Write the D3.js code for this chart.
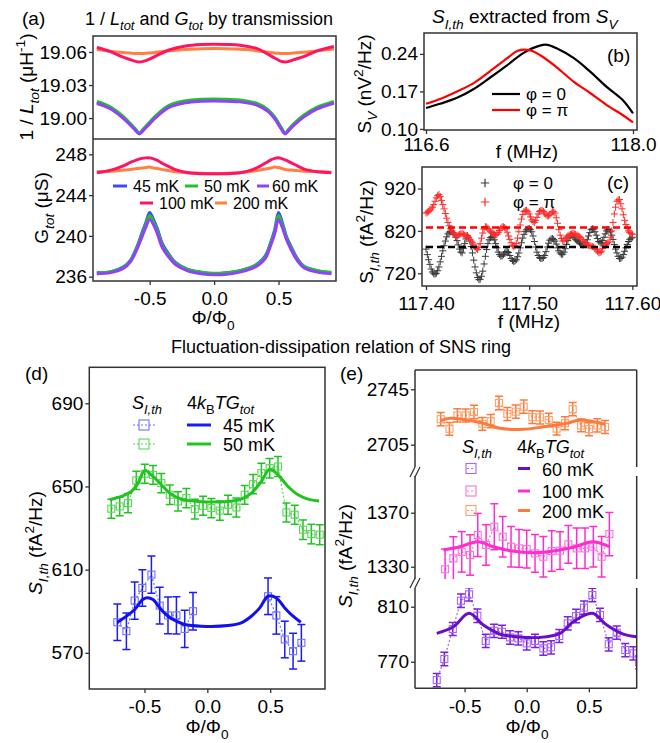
<!DOCTYPE html>
<html><head><meta charset="utf-8">
<script src="https://cdn.jsdelivr.net/npm/d3@7"></script>
<style>
body{margin:0;background:#fff;}
svg text{font-family:"Liberation Sans",Arial,Helvetica,sans-serif;fill:#000;}
</style></head><body>
<svg id="c" width="660" height="743"></svg>
<script>
// ---------------- DATA ----------------
// (a) top: 1/L_tot (uH^-1)
const aTopPhi = [-0.91,-0.81,-0.71,-0.65,-0.61,-0.58,-0.55,-0.51,-0.45,-0.35,-0.22,-0.1,0,0.1,0.2,0.33,0.42,0.47,0.52,0.55,0.58,0.62,0.7,0.8,0.93];
const aTop45 = [19.0140,19.0095,19.0010,18.9942,18.9893,18.9860,18.9893,18.9942,19.0015,19.0104,19.0146,19.0160,19.0163,19.0160,19.0155,19.0125,19.0066,19.0001,18.9908,18.9860,18.9893,18.9942,19.0020,19.0090,19.0142];
const aTop50 = [19.0150,19.0105,19.0020,18.9950,18.9900,18.9865,18.9900,18.9950,19.0025,19.0115,19.0157,19.0170,19.0174,19.0170,19.0165,19.0135,19.0075,19.0010,18.9915,18.9865,18.9900,18.9950,19.0030,19.0100,19.0152];
const aTop60 = [19.0132,19.0087,19.0003,18.9936,18.9888,18.9856,18.9888,18.9936,19.0008,19.0097,19.0139,19.0152,19.0156,19.0152,19.0147,19.0118,19.0059,18.9995,18.9903,18.9856,18.9888,18.9936,19.0013,19.0083,19.0135];
const aTop100 = [19.0640,19.0605,19.0555,19.0530,19.0515,19.0510,19.0515,19.0530,19.0565,19.0618,19.0655,19.0668,19.0670,19.0668,19.0662,19.0632,19.0578,19.0545,19.0515,19.0510,19.0515,19.0530,19.0560,19.0610,19.0650];
const aTop200 = [19.0622,19.0607,19.0595,19.0590,19.0587,19.0586,19.0587,19.0590,19.0597,19.0610,19.0622,19.0630,19.0632,19.0630,19.0625,19.0612,19.0598,19.0591,19.0587,19.0586,19.0587,19.0590,19.0598,19.0610,19.0628];
// (a) bottom: G_tot (uS)
const aBotPhi = [-0.91,-0.8,-0.7,-0.65,-0.6,-0.56,-0.53,-0.5,-0.47,-0.44,-0.4,-0.35,-0.3,-0.2,-0.1,0,0.1,0.2,0.3,0.35,0.4,0.44,0.47,0.5,0.53,0.56,0.6,0.65,0.7,0.8,0.91];
const aBot45 = [236.4,236.5,237.0,237.6,238.9,240.3,241.3,242.3,241.6,240.7,239.2,238.2,237.4,236.7,236.45,236.3,236.4,236.6,237.0,237.4,238.1,239.4,240.6,242.3,241.3,240.0,238.9,237.7,237.0,236.6,236.4];
const aBot50 = [236.4,236.5,236.95,237.55,238.8,240.1,241.1,242.0,241.4,240.5,239.0,238.1,237.35,236.7,236.45,236.35,236.4,236.6,237.0,237.35,238.0,239.3,240.4,242.0,241.1,239.9,238.8,237.6,237.0,236.6,236.45];
const aBot60 = [236.3,236.4,236.85,237.45,238.65,239.9,240.85,241.6,241.1,240.2,238.8,237.9,237.2,236.55,236.3,236.2,236.25,236.45,236.85,237.2,237.85,239.1,240.2,241.6,240.8,239.7,238.6,237.5,236.85,236.45,236.3];
const aBot100 = [246.2,246.45,246.9,247.2,247.45,247.6,247.65,247.65,247.55,247.4,247.1,246.8,246.5,246.2,246.1,246.1,246.1,246.2,246.5,246.8,247.15,247.45,247.6,247.65,247.55,247.4,247.15,246.85,246.55,246.3,246.2];
const aBot200 = [246.3,246.35,246.45,246.5,246.6,246.65,246.7,246.75,246.65,246.6,246.5,246.4,246.3,246.2,246.15,246.1,246.15,246.2,246.35,246.45,246.55,246.65,246.75,246.7,246.6,246.5,246.45,246.4,246.35,246.3,246.25];
const aLegend = ["45 mK","50 mK","60 mK","100 mK","200 mK"];

// (b) S_V (nV^2/Hz) vs f (MHz)
const bFreq0 = [116.6,116.695,116.81,116.92,117.03,117.15,117.26,117.37,117.42,117.48,117.60,117.71,117.82,117.93,118.0];
const bSv0   = [0.139,0.147,0.158,0.174,0.195,0.219,0.242,0.2555,0.257,0.251,0.232,0.207,0.179,0.154,0.129];
const bFreqPi = [116.6,116.695,116.81,116.92,117.03,117.15,117.22,117.30,117.37,117.48,117.60,117.71,117.82,117.93,118.0];
const bSvPi   = [0.147,0.156,0.170,0.185,0.207,0.232,0.246,0.247,0.238,0.216,0.188,0.167,0.145,0.126,0.112];

// (c) S_I,th (fA^2/Hz) vs f (MHz)
const cFreq = [
  117.4,117.40125,117.4025,117.40375,117.405,117.40625,117.4075,117.40875,
  117.41,117.41125,117.4125,117.41375,117.415,117.41625,117.4175,117.41875,
  117.42,117.42125,117.4225,117.42375,117.425,117.42625,117.4275,117.42875,
  117.43,117.43125,117.4325,117.43375,117.435,117.43625,117.4375,117.43875,
  117.44,117.44125,117.4425,117.44375,117.445,117.44625,117.4475,117.44875,
  117.45,117.45125,117.4525,117.45375,117.455,117.45625,117.4575,117.45875,
  117.46,117.46125,117.4625,117.46375,117.465,117.46625,117.4675,117.46875,
  117.47,117.47125,117.4725,117.47375,117.475,117.47625,117.4775,117.47875,
  117.48,117.48125,117.4825,117.48375,117.485,117.48625,117.4875,117.48875,
  117.49,117.49125,117.4925,117.49375,117.495,117.49625,117.4975,117.49875,
  117.5,117.50125,117.5025,117.50375,117.505,117.50625,117.5075,117.50875,
  117.51,117.51125,117.5125,117.51375,117.515,117.51625,117.5175,117.51875,
  117.52,117.52125,117.5225,117.52375,117.525,117.52625,117.5275,117.52875,
  117.53,117.53125,117.5325,117.53375,117.535,117.53625,117.5375,117.53875,
  117.54,117.54125,117.5425,117.54375,117.545,117.54625,117.5475,117.54875,
  117.55,117.55125,117.5525,117.55375,117.555,117.55625,117.5575,117.55875,
  117.56,117.56125,117.5625,117.56375,117.565,117.56625,117.5675,117.56875,
  117.57,117.57125,117.5725,117.57375,117.575,117.57625,117.5775,117.57875,
  117.58,117.58125,117.5825,117.58375,117.585,117.58625,117.5875,117.58875,
  117.59,117.59125,117.5925,117.59375,117.595,117.59625,117.5975,117.59875,
  117.6];
const cS0 = [
  777,764,752,741,730,723,719,718,720,726, 735,747,760,773,785,796,806,813,817,818,
  818,816,812,805,797,787,777,770,768,779, 790,801,809,805,796,783,768,751,735,721,
  710,705,706,713,725,742,760,776,790,799, 804,806,805,799,790,780,770,764,760,761,
  764,768,771,771,769,762,755,750,748,749, 752,759,768,780,792,803,812,819,823,825,
  826,823,818,808,795,782,770,762,757,755, 755,757,762,771,782,791,798,801,802,800,
  796,789,780,773,768,765,765,770,778,788, 797,804,808,810,809,805,800,797,795,792,
  790,788,787,788,792,799,808,816,823,825, 824,818,810,802,795,792,792,797,805,813,
  820,823,823,818,810,800,788,777,768,760, 755,755,758,764,772,780,788,795,800,803,
  805];
const cSPi = [
  862,864,866,869,872,876,882,890,898,903, 906,901,892,882,872,861,850,840,832,825,
  820,815,812,809,808,810,812,813,814,812, 810,809,808,804,800,796,792,787,782,778,
  776,781,790,803,815,824,830,829,826,822, 818,816,814,812,810,812,816,821,826,829,
  830,828,825,817,808,800,792,786,783,785, 790,803,818,834,848,859,866,868,869,865,
  860,853,846,842,840,845,852,860,866,868, 869,866,862,858,855,856,858,862,866,865,
  862,851,838,823,810,802,796,798,802,805, 808,810,812,813,814,813,812,810,808,806,
  804,800,796,792,788,787,786,785,784,783, 782,779,776,772,768,769,772,779,785,788,
  790,792,794,805,820,840,860,876,890,893, 894,884,872,858,845,835,826,820,816,814,
  812];
const cMean0 = 782, cMeanPi = 828;

// (d) S_I,th and 4kBTG_tot, 45 mK (blue) and 50 mK (green)
const dPhi50 = [-0.764,-0.697,-0.631,-0.565,-0.498,-0.432,-0.366,-0.299,-0.233,-0.167,-0.100,-0.034,0.032,0.099,0.165,0.231,0.297,0.364,0.430,0.496,0.562,0.629,0.695,0.761,0.827,0.894];
const dVal50 = [639.3,640.4,642.0,652.9,656.1,655.6,651.6,646.0,642.8,644.4,639.1,640.7,639.6,638.4,641.2,639.9,646.0,651.1,656.4,658.8,659.6,637.5,636.4,629.2,627.1,626.8];
const dErr50 = [4.6,4.5,4.6,4.4,4.6,4.5,4.6,4.7,4.6,4.6,4.7,4.6,4.6,4.6,4.6,4.6,4.5,4.6,4.7,4.7,4.8,4.6,4.6,4.7,4.7,4.8];
const dPhi45 = [-0.716,-0.644,-0.578,-0.517,-0.445,-0.379,-0.313,-0.246,-0.180,-0.114,0.483,0.549,0.616,0.682,0.748];
const dVal45 = [584.7,580.4,595.1,601.2,607.6,592.7,588.0,588.0,581.5,590.0,597.2,588.0,576.4,570.8,574.8];
const dErr45 = [8.8,8.8,9.0,8.8,9.0,8.8,8.8,9.0,9.0,9.0,8.8,9.0,8.8,8.6,8.8];
const dRun45 = [0,0,0,0,0,0,0,0,0,0,1,1,1,1,1];
const dFitPhi50 = [-0.777,-0.684,-0.605,-0.551,-0.498,-0.432,-0.366,-0.299,-0.207,-0.074,0.165,0.27,0.35,0.43,0.496,0.562,0.642,0.722,0.801,0.889];
const dFitVal50 = [643.6,645.2,647.6,651.6,657.6,654.8,650.8,646.8,643.9,642.8,642.8,643.9,646.8,652.4,658.3,655.6,650.0,646.0,643.9,643.0];
const dFitPhi45 = [-0.716,-0.644,-0.578,-0.517,-0.48,-0.432,-0.379,-0.313,-0.246,-0.18,-0.048,0.165,0.27,0.35,0.417,0.483,0.549,0.616,0.682,0.743];
const dFitVal45 = [584.7,587.6,590.8,595.5,596.5,595.6,591.6,587.6,585.2,583.6,582.8,583.1,584.4,587.6,591.6,597.2,596.4,591.6,587.6,584.7];

// (e) 60 mK (purple), 100 mK (magenta), 200 mK (orange)
const ePhi200 = [-0.692,-0.622,-0.558,-0.491,-0.424,-0.357,-0.290,-0.223,-0.156,-0.088,-0.024,0.045,0.107,0.177,0.241,0.308,0.370,0.437,0.501,0.568,0.630];
const eVal200 = [2723.4,2716.5,2726.1,2726.1,2728.6,2720.1,2722.0,2735.1,2727.2,2728.8,2732.4,2724.9,2724.7,2722.8,2716.6,2720.5,2730.6,2718.9,2716.2,2718.9,2717.8];
const eErr200 = [4.8,4.6,4.8,4.7,4.9,4.6,4.8,4.9,4.7,4.8,4.8,4.6,4.7,4.8,4.6,4.7,4.8,4.6,4.7,4.8,4.7];
const eFitPhi200 = [-0.697,-0.617,-0.483,-0.349,-0.215,-0.027,0.134,0.322,0.429,0.63];
const eFitVal200 = [2722.3,2724.0,2722.8,2720.5,2716.8,2716.1,2718.0,2720.5,2722.8,2719.7];
const ePhi100 = [-0.657,-0.590,-0.523,-0.456,-0.394,-0.327,-0.261,-0.193,-0.126,-0.062,0.000,0.067,0.134,0.201,0.268,0.335,0.402,0.469,0.536,0.603,0.665];
const eVal100 = [1328.1,1336.2,1341.0,1338.7,1353.5,1346.1,1359.6,1352.2,1344.8,1343.6,1343.1,1339.9,1337.4,1341.6,1341.9,1346.6,1343.6,1343.6,1344.8,1337.4,1354.2];
const eErr100 = [15,16,15,15,16,15,17,15,15,14,14,14,15,15,14,14,15,15,15,15,16];
const eFitPhi100 = [-0.671,-0.537,-0.394,-0.269,-0.134,0.053,0.214,0.375,0.531,0.665];
const eFitVal100 = [1342.4,1344.8,1348.5,1344.8,1341.9,1340.4,1341.6,1344.4,1348.5,1344.8];
const ePhi60 = [-0.724,-0.663,-0.595,-0.529,-0.464,-0.397,-0.330,-0.263,-0.199,-0.134,-0.068,0.000,0.067,0.134,0.196,0.262,0.330,0.397,0.461,0.528,0.590,0.660,0.724,0.793,0.858,0.905];
const eVal60 = [756.7,772.0,793.8,814.4,819.0,803.5,785.1,792.5,791.8,787.7,787.0,783.4,785.1,779.7,780.5,788.7,797.9,803.2,809.3,818.5,804.0,782.7,791.1,778.5,776.1,769.5];
const eErr60 = [4.8,4.9,4.8,4.9,4.8,4.9,4.8,4.8,4.8,4.9,4.8,4.8,4.8,4.9,4.8,4.8,4.8,4.9,4.8,4.9,4.8,4.8,4.8,4.8,4.8,4.8];
const eFitPhi60 = [-0.724,-0.59,-0.464,-0.349,-0.215,-0.08,0.107,0.268,0.375,0.528,0.644,0.777,0.885];
const eFitVal60 = [790.6,795.5,805.2,796.7,790.1,788.2,787.7,790.6,799.1,805.2,796.7,790.1,788.2];

const phiTicks = [-0.5, 0.0, 0.5];

// ---------------- DRAWING ----------------
const svg = d3.select('#c');
const defs = svg.append('defs');
const FS = 19;
const FRAME = '#333';
const cat = d3.curveCatmullRom.alpha(0.5);

function clip(id, x0, y0, x1, y1){
  defs.append('clipPath').attr('id', id).append('rect')
    .attr('x', x0).attr('y', y0).attr('width', x1 - x0).attr('height', y1 - y0);
  return `url(#${id})`;
}
function rich(parent, x, y, parts, size, anchor, rot){
  const t = parent.append('text').attr('font-size', size).attr('text-anchor', anchor || 'start');
  if (rot) t.attr('transform', `translate(${x},${y}) rotate(${rot})`);
  else t.attr('x', x).attr('y', y);
  let shift = 0;
  parts.forEach(p => {
    const txt = typeof p === 'string' ? p : p[0];
    const f = typeof p === 'string' ? '' : (p[1] || '');
    let target = 0, fs = size;
    if (f.includes('sub')) { target = size * 0.3; fs = size * 0.72; }
    if (f.includes('sup')) { target = -size * 0.42; fs = size * 0.72; }
    const ts = t.append('tspan').text(txt).attr('dy', target - shift).attr('font-size', fs);
    if (f.includes('it')) ts.attr('font-style', 'italic');
    shift = target;
  });
  return t;
}
function styleAxis(a){
  a.attr('font-family', null).attr('font-size', null);
  a.select('.domain').remove();
  a.selectAll('line').attr('stroke', FRAME).attr('stroke-width', 1.3);
  a.selectAll('text').attr('font-size', FS).attr('fill', '#000');
}
function yAxis(x, scale, ticks, fmt){
  const a = svg.append('g').attr('transform', `translate(${x},0)`)
    .call(d3.axisLeft(scale).tickValues(ticks).tickSize(4).tickPadding(2).tickFormat(fmt));
  styleAxis(a);
}
function xAxis(y, scale, ticks, fmt, pad){
  const a = svg.append('g').attr('transform', `translate(0,${y})`)
    .call(d3.axisBottom(scale).tickValues(ticks).tickSize(4).tickPadding(pad).tickFormat(fmt));
  styleAxis(a);
}
function frame(x0, y0, x1, y1){
  svg.append('rect').attr('x', x0).attr('y', y0).attr('width', x1 - x0).attr('height', y1 - y0)
    .attr('fill', 'none').attr('stroke', FRAME).attr('stroke-width', 1.5);
}
function seg(x1, y1, x2, y2, color, w, dash){
  const l = svg.append('line').attr('x1', x1).attr('y1', y1).attr('x2', x2).attr('y2', y2)
    .attr('stroke', color).attr('stroke-width', w);
  if (dash) l.attr('stroke-dasharray', dash);
  return l;
}
const fmt1 = d => d.toFixed(1);
const fmt2 = d => d.toFixed(2);
const fmt0 = d => d.toFixed(0);

// ===== Panel (a) =====
const colA = {45:'#3b4bff', 50:'#1fc41f', 60:'#9040ff', 100:'#ff1464', 200:'#ff8040'};
const ax = d3.scaleLinear().domain([-0.94, 0.946]).range([93, 336]);
const ayT = d3.scaleLinear().domain([18.981, 19.0745]).range([139, 36]);
const ayB = d3.scaleLinear().domain([235.58, 249.5]).range([281, 139]);
const clipAT = clip('caT', 93, 36, 336, 139);
const clipAB = clip('caB', 93, 139, 336, 281);
function aLine(phi, vals, ys, color, cp){
  svg.append('path').datum(phi.map((p, i) => [p, vals[i]]))
    .attr('d', d3.line().x(d => ax(d[0])).y(d => ys(d[1])).curve(cat))
    .attr('fill', 'none').attr('stroke', color).attr('stroke-width', 3).attr('clip-path', cp);
}
aLine(aTopPhi, aTop200, ayT, colA[200], clipAT);
aLine(aTopPhi, aTop100, ayT, colA[100], clipAT);
aLine(aTopPhi, aTop45, ayT, colA[45], clipAT);
aLine(aTopPhi, aTop50, ayT, colA[50], clipAT);
aLine(aTopPhi, aTop60, ayT, colA[60], clipAT);
aLine(aBotPhi, aBot200, ayB, colA[200], clipAB);
aLine(aBotPhi, aBot100, ayB, colA[100], clipAB);
aLine(aBotPhi, aBot45, ayB, colA[45], clipAB);
aLine(aBotPhi, aBot50, ayB, colA[50], clipAB);
aLine(aBotPhi, aBot60, ayB, colA[60], clipAB);
frame(93, 36, 336, 281);
seg(93, 139, 336, 139, FRAME, 1.5);
yAxis(93, ayT, [19.00, 19.03, 19.06], fmt2);
yAxis(93, ayB, [236, 240, 244, 248], fmt0);
xAxis(281, ax, phiTicks, fmt1, 7);
// legend (a)
[[113,127,133,186,0,45],[185,198,204,186,1,50],[257,269,272,186,2,60],[140,153,159,203,3,100],[215,227,233,203,4,200]]
  .forEach(([x1,x2,tx,y,i,k]) => {
    seg(x1, y, x2, y, colA[k], 3);
    svg.append('text').attr('x', tx).attr('y', y + 6).attr('font-size', 16).text(aLegend[i]);
  });
rich(svg, 22, 25, ['(a)'], FS);
rich(svg, 85, 25, ['1 / ', ['L','it'], ['tot','it sub'], ' and ', ['G','it'], ['tot','it sub'], ' by transmission'], 18);
rich(svg, 33, 87, ['1 / ', ['L','it'], ['tot','it sub'], ' (μH', ['-1','sup'], ')'], FS, 'middle', -90);
rich(svg, 48, 208, ['G', ['tot','it sub'], ' (μS)'], FS, 'middle', -90);
rich(svg, 213, 324, ['Φ/Φ', ['0','sub']], FS, 'middle');

// ===== Panel (b) =====
const bx = d3.scaleLinear().domain([116.5865, 118.027]).range([424, 637]);
const by = d3.scaleLinear().domain([0.098, 0.279]).range([130, 33]);
const clipB = clip('cb', 424, 33, 637, 130);
function bLine(fr, vals, color){
  svg.append('path').datum(fr.map((f, i) => [f, vals[i]]))
    .attr('d', d3.line().x(d => bx(d[0])).y(d => by(d[1])).curve(cat))
    .attr('fill', 'none').attr('stroke', color).attr('stroke-width', 2.2).attr('clip-path', clipB);
}
bLine(bFreq0, bSv0, '#000');
bLine(bFreqPi, bSvPi, '#ff0000');
frame(424, 33, 637, 130);
yAxis(424, by, [0.10, 0.17, 0.24], fmt2);
xAxis(130, bx, [116.6, 118.0], fmt1, 4);
seg(492, 94, 520, 94, '#000', 2.2);
seg(492, 110, 520, 110, '#ff0000', 2.2);
rich(svg, 526, 100, ['φ = 0'], 17);
rich(svg, 526, 116, ['φ = π'], 17);
rich(svg, 607, 62, ['(b)'], FS);
rich(svg, 432, 23, [['S','it'], ['I,th','it sub'], ' extracted from ', ['S','it'], ['V','it sub']], FS);
rich(svg, 371, 84, ['S', ['V','it sub'], '  (nV', ['2','sup'], '/Hz)'], FS, 'middle', -90);
rich(svg, 527, 158, ['f (MHz)'], FS, 'middle');

// ===== Panel (c) =====
const cx = d3.scaleLinear().domain([117.3961, 117.6045]).range([422, 637]);
const cy = d3.scaleLinear().domain([690, 970.8]).range([286, 167]);
const clipC = clip('cc', 422, 167, 637, 286);
const plus = 'M-3.5,0H3.5M0,-3.5V3.5';
function cMarks(vals, color){
  svg.append('g').attr('clip-path', clipC).selectAll('path').data(cFreq.map((f, i) => [f, vals[i]]))
    .join('path').attr('d', plus).attr('transform', d => `translate(${cx(d[0])},${cy(d[1])})`)
    .attr('stroke', color).attr('stroke-width', 1).attr('fill', 'none');
}
cMarks(cS0, '#3a3a3a');
cMarks(cSPi, '#ff2a2a');
seg(426, cy(cMeanPi), 633, cy(cMeanPi), '#ff0000', 2.5, '7,4');
seg(426, cy(cMean0), 633, cy(cMean0), '#000', 2.5, '7,4');
frame(422, 167, 637, 286);
yAxis(422, cy, [720, 820, 920], fmt0);
xAxis(286, cx, [117.40, 117.50, 117.60], fmt2, 7);
svg.append('path').attr('d', plus).attr('transform', 'translate(485,183) scale(1.2)').attr('stroke', '#3a3a3a').attr('fill', 'none');
svg.append('path').attr('d', plus).attr('transform', 'translate(485,202) scale(1.2)').attr('stroke', '#ff2a2a').attr('fill', 'none');
rich(svg, 513, 189, ['φ = 0'], 17);
rich(svg, 513, 208, ['φ = π'], 17);
rich(svg, 607, 189, ['(c)'], FS);
rich(svg, 373, 232, ['S', ['I,th','it sub'], ' (fA', ['2','sup'], '/Hz)'], FS, 'middle', -90);
rich(svg, 529, 328, ['f (MHz)'], FS, 'middle');

// ===== Title for (d)/(e) =====
rich(svg, 341, 353, ['Fluctuation-dissipation relation of SNS ring'], 18, 'middle');

// generic error-bar series
function errSeries(xs, ys, phi, vals, errs, runs, cLine, cSq, cp){
  const g = svg.append('g').attr('clip-path', cp);
  const pts = phi.map((p, i) => ({x: xs(p), y: ys(vals[i]), lo: ys(vals[i] - errs[i]), hi: ys(vals[i] + errs[i]), r: runs ? runs[i] : 0}));
  d3.groups(pts, d => d.r).forEach(([, arr]) => {
    g.append('path').datum(arr).attr('d', d3.line().x(d => d.x).y(d => d.y))
      .attr('fill', 'none').attr('stroke', cSq).attr('stroke-width', 1.2).attr('stroke-dasharray', '2,2');
  });
  pts.forEach(d => {
    g.append('line').attr('x1', d.x).attr('x2', d.x).attr('y1', d.lo).attr('y2', d.hi).attr('stroke', cLine).attr('stroke-width', 1.5);
    g.append('line').attr('x1', d.x - 4).attr('x2', d.x + 4).attr('y1', d.lo).attr('y2', d.lo).attr('stroke', cLine).attr('stroke-width', 1.5);
    g.append('line').attr('x1', d.x - 4).attr('x2', d.x + 4).attr('y1', d.hi).attr('y2', d.hi).attr('stroke', cLine).attr('stroke-width', 1.5);
    g.append('rect').attr('x', d.x - 3.5).attr('y', d.y - 3.5).attr('width', 7).attr('height', 7)
      .attr('fill', 'none').attr('stroke', cSq).attr('stroke-width', 1.1);
  });
}
function fitLine(xs, ys, phi, vals, color, cp){
  svg.append('path').datum(phi.map((p, i) => [p, vals[i]]))
    .attr('d', d3.line().x(d => xs(d[0])).y(d => ys(d[1])).curve(cat))
    .attr('fill', 'none').attr('stroke', color).attr('stroke-width', 3).attr('clip-path', cp);
}

// ===== Panel (d) =====
const dx = d3.scaleLinear().domain([-0.939, 0.936]).range([89.3, 325]);
const dy = d3.scaleLinear().domain([552.6, 707.3]).range([689, 367.3]);
const clipD = clip('cd', 89.3, 367.3, 325, 689);
const dCol = {g:'#1fc41f', gs:'#5ad65a', b:'#1a1aff', bs:'#6f6fff'};
errSeries(dx, dy, dPhi50, dVal50, dErr50, null, dCol.g, dCol.gs, clipD);
fitLine(dx, dy, dFitPhi50, dFitVal50, dCol.g, clipD);
errSeries(dx, dy, dPhi45, dVal45, dErr45, dRun45, dCol.b, dCol.bs, clipD);
fitLine(dx, dy, dFitPhi45, dFitVal45, '#1010f0', clipD);
frame(89.3, 367.3, 325, 689);
yAxis(89.3, dy, [570, 610, 650, 690], fmt0);
xAxis(689, dx, phiTicks, fmt1, 7);
rich(svg, 25, 380, ['(d)'], FS);
rich(svg, 42, 543, [['S','it'], ['I,th','it sub'], ' (fA', ['2','sup'], '/Hz)'], FS, 'middle', -90);
rich(svg, 207, 733, ['Φ/Φ', ['0','sub']], FS, 'middle');
// legend (d)
rich(svg, 132, 409, [['S','it'], ['I,th','it sub']], 18);
rich(svg, 187, 409, ['4', ['k','it'], ['B','sub'], ['TG','it'], ['tot','it sub']], 18);
[[425, dCol.b, dCol.bs, '45 mK'], [444, dCol.g, dCol.gs, '50 mK']].forEach(([y, cl, cs, lab]) => {
  seg(133, y, 155, y, cs, 1.2, '2,2');
  svg.append('rect').attr('x', 139).attr('y', y - 5).attr('width', 10).attr('height', 10).attr('fill', 'none').attr('stroke', cs).attr('stroke-width', 1.1);
  seg(187, y, 211, y, cl, 3);
  svg.append('text').attr('x', 223).attr('y', y + 7).attr('font-size', 18).text(lab);
});

// ===== Panel (e) =====
const ex = d3.scaleLinear().domain([-0.899, 0.885]).range([415, 636.7]);
const eSeg = [
  {y0:370, y1:467, s:d3.scaleLinear().domain([2688.9, 2758.9]).range([467, 370]), ticks:[2705, 2745]},
  {y0:476, y1:579, s:d3.scaleLinear().domain([1320.9, 1397.2]).range([579, 476]), ticks:[1330, 1370]},
  {y0:588, y1:688.3, s:d3.scaleLinear().domain([750.7, 823.6]).range([688.3, 588]), ticks:[770, 810]}
];
const clipE = eSeg.map((s, i) => clip('ce' + i, 415, s.y0, 636.7, s.y1));
const eCol = {o:'#ff7a3a', os:'#ff9f6a', m:'#ff2ccf', ms:'#ff70dd', p:'#7a22e0', ps:'#a565ff', pf:'#6a0dc8'};
errSeries(ex, eSeg[0].s, ePhi200, eVal200, eErr200, null, eCol.o, eCol.os, clipE[0]);
fitLine(ex, eSeg[0].s, eFitPhi200, eFitVal200, eCol.o, clipE[0]);
errSeries(ex, eSeg[1].s, ePhi100, eVal100, eErr100, null, eCol.m, eCol.ms, clipE[1]);
fitLine(ex, eSeg[1].s, eFitPhi100, eFitVal100, eCol.m, clipE[1]);
errSeries(ex, eSeg[2].s, ePhi60, eVal60, eErr60, null, eCol.p, eCol.ps, clipE[2]);
fitLine(ex, eSeg[2].s, eFitPhi60, eFitVal60, eCol.pf, clipE[2]);
// frame pieces
seg(415, 370, 636.7, 370, FRAME, 1.5);
seg(415, 688.3, 636.7, 688.3, FRAME, 1.5);
eSeg.forEach(s => {
  seg(415, s.y0, 415, s.y1, FRAME, 1.5);
  seg(636.7, s.y0, 636.7, s.y1, FRAME, 1.5);
  yAxis(415, s.s, s.ticks, fmt0);
});
[[477, 467], [588, 578]].forEach(([yb, yt]) => {
  seg(410, yb, 415, yt, FRAME, 1.3);
  seg(415, yb, 420, yt, FRAME, 1.3);
});
xAxis(688.3, ex, phiTicks, fmt1, 7);
rich(svg, 340, 380, ['(e)'], FS);
rich(svg, 352, 556, [['S','it'], ['I,th','it sub'], ' (fA', ['2','sup'], '/Hz)'], FS, 'middle', -90);
rich(svg, 527, 733, ['Φ/Φ', ['0','sub']], FS, 'middle');
// legend (e)
rich(svg, 462, 453, [['S','it'], ['I,th','it sub']], 18);
rich(svg, 517, 453, ['4', ['k','it'], ['B','sub'], ['TG','it'], ['tot','it sub']], 18);
[[468.5, eCol.pf, eCol.ps, '60 mK'], [491, eCol.m, eCol.ms, '100 mK'], [510.5, eCol.o, eCol.os, '200 mK']].forEach(([y, cl, cs, lab]) => {
  svg.append('rect').attr('x', 466).attr('y', y - 5).attr('width', 10).attr('height', 10).attr('fill', 'none').attr('stroke', cs).attr('stroke-width', 1.1);
  seg(467, y, 475, y, cs, 1.2, '2,2');
  seg(518, y, 530, y, cl, 3);
  svg.append('text').attr('x', 542).attr('y', y + 7).attr('font-size', 18).text(lab);
});
</script>
</body></html>
